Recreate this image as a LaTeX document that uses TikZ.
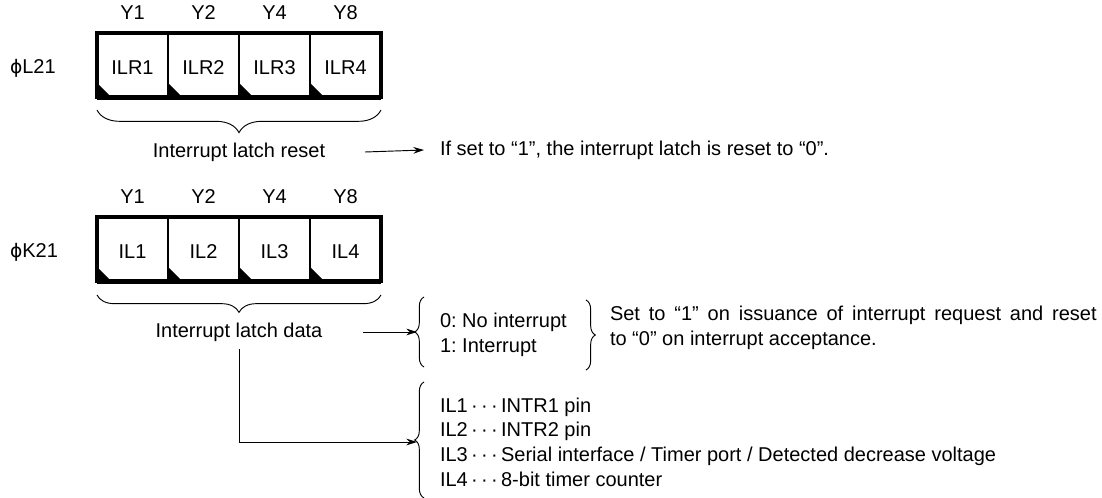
\documentclass[tikz,border=0pt]{standalone}
\usepackage{fontspec}
\setmainfont{Liberation Sans}
\newfontfamily\phifont{DejaVu Sans}
\usetikzlibrary{arrows.meta,decorations.pathreplacing,calc}
\begin{document}
\frenchspacing
\begin{tikzpicture}[x=0.75pt,y=-0.75pt,
  every node/.style={font=\fontsize{15}{18.5}\selectfont\frenchspacing, inner sep=0pt, outer sep=0pt},
  cell/.style={draw, line width=1pt, minimum width=53.25pt, minimum height=48pt, anchor=north west},
  frame/.style={line width=2.8pt},
  ear/.style={fill=black},
  brc/.style={decorate, decoration={brace, amplitude=#1}, line width=0.7pt},
  brc/.default=6pt,
  arr/.style={-{Stealth[length=8pt,width=5pt]}, line width=0.7pt},
  conn/.style={line width=0.7pt}]
\useasboundingbox (0,0) rectangle (1102,498);

% ---------- register phiL21 ----------
\node[anchor=west] (phiL) at (10,68) {{\phifont\fontsize{14}{16}\selectfont ϕ}L21};
\foreach \i/\t/\y in {1/ILR1/Y1,2/ILR2/Y2,3/ILR3/Y4,4/ILR4/Y8}{
  \node[cell] (c\i) at ({97+(\i-1)*71},33) {};
  \node at ($(c\i.center)+(0,3)$) (ct\i) {\t};
  \node (cy\i) at ($(c\i.north)+(0,-20)$) {\y};
  \fill[ear] (c\i.south west) -- ++(0,-14) -- ++(14,14) -- cycle;
}
\draw[frame] (c1.north west) rectangle (c4.south east);
\draw[line width=2pt] ([yshift=-1.5pt]c1.south west) -- ([yshift=-1.5pt]c4.south east);
\coordinate (b1r) at (381,110);
\coordinate (b1l) at (97,110);
\draw[brc=17pt] (b1r) -- (b1l);
\node (rl) at (239,152) {Interrupt latch reset};
\coordinate (ra) at (365,152);
\node[anchor=west] (rd) at (440,150) {If set to “1”, the interrupt latch is reset to “0”.};
\draw[arr] (ra) -- ([xshift=-12pt]rd.west);

% ---------- register phiK21 ----------
\node[anchor=west] (phiK) at (10,252) {{\phifont\fontsize{14}{16}\selectfont ϕ}K21};
\foreach \i/\t/\y in {1/IL1/Y1,2/IL2/Y2,3/IL3/Y4,4/IL4/Y8}{
  \node[cell] (d\i) at ({97+(\i-1)*71},217) {};
  \node at ($(d\i.center)+(0,3)$) (dt\i) {\t};
  \node (dy\i) at ($(d\i.north)+(0,-20)$) {\y};
  \fill[ear] (d\i.south west) -- ++(0,-14) -- ++(14,14) -- cycle;
}
\draw[frame] (d1.north west) rectangle (d4.south east);
\draw[line width=2pt] ([yshift=-1.5pt]d1.south west) -- ([yshift=-1.5pt]d4.south east);
\coordinate (b2r) at (381,295);
\coordinate (b2l) at (97,295);
\draw[brc=13pt] (b2r) -- (b2l);
\node (dl) at (239,332) {Interrupt latch data};
\coordinate (da) at (363,332);

% value brace
\coordinate (vb) at (424,367);
\coordinate (vt) at (424,297);
\draw[brc=7pt] (vb) -- (vt);
\coordinate (vtip) at (417,332);
\draw[arr] (da) -- (vtip);
\node[anchor=west, align=left] (vals) at (440,335) {0: No interrupt\\1: Interrupt};
\coordinate (wt) at (586,300);
\coordinate (wb) at (586,370);
\draw[brc=7pt] (wt) -- (wb);
\node[anchor=west, text width=365pt, align=justify] (note) at (610,328)
  {Set to “1” on issuance of interrupt request and reset\linebreak to “0” on interrupt acceptance.};

% source list brace
\coordinate (lb) at (424,498);
\coordinate (lt) at (424,382);
\draw[brc=7pt] (lb) -- (lt);
\coordinate (ltip) at (417,442);
\coordinate (bend) at (239,442);
\draw[arr] ([yshift=-6pt]dl.south) -- (bend) -- (ltip);
\node[anchor=west, align=left] (list) at (440,442)
  {IL1\,·\,·\,·\,INTR1 pin\\
   IL2\,·\,·\,·\,INTR2 pin\\
   IL3\,·\,·\,·\,Serial interface / Timer port / Detected decrease voltage\\
   IL4\,·\,·\,·\,8-bit timer counter};
\end{tikzpicture}
\end{document}
